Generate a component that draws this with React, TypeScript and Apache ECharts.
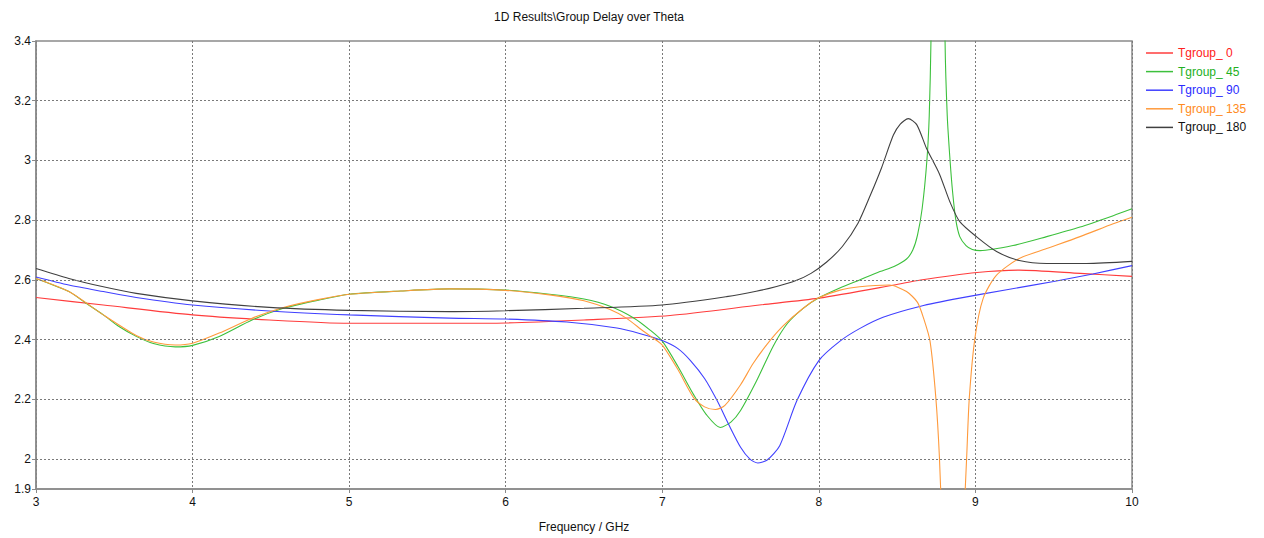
import React, { useEffect, useRef } from "react";
import * as echarts from "echarts";

const seriesNames = ["Tgroup_ 0", "Tgroup_ 45", "Tgroup_ 90", "Tgroup_ 135", "Tgroup_ 180"];
const lineColors = ["#ff3c3c", "#3cc03c", "#4040ff", "#ff9a3c", "#404040"];
const legendColors = ["#ff2020", "#22b022", "#2a2aff", "#ff8a20", "#101010"];

const fTg0 = [3, 3.43, 4, 4.49, 5, 5.64, 6, 6.5, 7.05, 7.62, 8, 8.48, 8.65, 9.01, 9.28, 9.67, 10];
const vTg0 = [2.541, 2.516, 2.483, 2.466, 2.455, 2.455, 2.456, 2.466, 2.481, 2.516, 2.539, 2.583, 2.6, 2.625, 2.633, 2.622, 2.612];

const fTg45 = [3, 3.21, 3.32, 3.43, 3.53, 3.64, 3.75, 3.89, 4.0, 4.17, 4.38, 4.58, 4.81, 5.0, 5.33, 5.64, 6.0, 6.28, 6.5, 6.67, 6.82, 6.92, 7.0, 7.1, 7.2, 7.28, 7.37, 7.44, 7.5, 7.6, 7.71, 7.8, 7.9, 8.0, 8.13, 8.26, 8.39, 8.48, 8.56, 8.6, 8.63, 8.66, 8.69, 8.705, 8.716, 8.74, 8.76, 8.785, 8.806, 8.82, 8.838, 8.855, 8.875, 8.9, 8.94, 8.98, 9.03, 9.24, 9.455, 9.668, 9.88, 10];
const vTg45 = [2.605, 2.561, 2.522, 2.483, 2.444, 2.411, 2.387, 2.376, 2.381, 2.411, 2.466, 2.505, 2.533, 2.552, 2.563, 2.57, 2.566, 2.552, 2.536, 2.511, 2.472, 2.433, 2.395, 2.31, 2.216, 2.15, 2.106, 2.125, 2.163, 2.26, 2.38, 2.455, 2.505, 2.54, 2.572, 2.6, 2.628, 2.645, 2.67, 2.7, 2.75, 2.84, 3.0, 3.15, 3.4, 4.5, 6, 4.5, 3.4, 3.15, 3.0, 2.89, 2.8, 2.745, 2.715, 2.702, 2.698, 2.715, 2.745, 2.777, 2.815, 2.838];

const fTg90 = [3, 3.21, 3.43, 3.64, 4.0, 4.49, 5.0, 5.64, 6.0, 6.39, 6.71, 6.86, 7.0, 7.1, 7.18, 7.27, 7.35, 7.43, 7.5, 7.56, 7.61, 7.67, 7.75, 7.86, 8.0, 8.135, 8.26, 8.41, 8.65, 8.9, 9.2, 9.5, 9.75, 10];
const vTg90 = [2.61, 2.583, 2.561, 2.541, 2.516, 2.496, 2.483, 2.472, 2.469, 2.459, 2.439, 2.42, 2.397, 2.37, 2.33, 2.27, 2.196, 2.11, 2.04, 2.0, 1.987, 1.997, 2.045, 2.196, 2.33, 2.395, 2.437, 2.475, 2.512, 2.539, 2.567, 2.595, 2.62, 2.648];

const fTg135 = [3, 3.21, 3.43, 3.64, 3.75, 3.89, 4.0, 4.17, 4.38, 4.58, 4.81, 5.0, 5.33, 5.64, 6.0, 6.28, 6.5, 6.67, 6.77, 6.88, 6.94, 7.0, 7.1, 7.2, 7.27, 7.34, 7.4, 7.5, 7.58, 7.67, 7.77, 7.9, 8.0, 8.13, 8.26, 8.45, 8.56, 8.63, 8.67, 8.71, 8.747, 8.77, 8.8, 8.85, 8.9, 8.944, 8.961, 8.997, 9.05, 9.135, 9.28, 9.455, 9.668, 9.88, 10];
const vTg135 = [2.605, 2.561, 2.483, 2.414, 2.392, 2.382, 2.388, 2.422, 2.472, 2.508, 2.535, 2.552, 2.563, 2.57, 2.565, 2.55, 2.53, 2.5, 2.472, 2.428, 2.406, 2.382, 2.3, 2.206, 2.175, 2.166, 2.18, 2.249, 2.32, 2.385, 2.445, 2.505, 2.54, 2.565, 2.577, 2.583, 2.561, 2.525, 2.47, 2.395, 2.206, 2.006, 1.6, 1.0, 1.5, 2.006, 2.206, 2.406, 2.539, 2.616, 2.672, 2.705, 2.745, 2.788, 2.81];

const fTg180 = [3, 3.21, 3.43, 3.64, 4.0, 4.49, 5.0, 5.64, 6.0, 6.5, 7.0, 7.41, 7.6, 7.73, 7.85, 7.95, 8.05, 8.15, 8.25, 8.33, 8.4, 8.476, 8.52, 8.571, 8.625, 8.688, 8.77, 8.838, 8.9, 9.008, 9.135, 9.28, 9.455, 9.71, 10];
const vTg180 = [2.638, 2.605, 2.577, 2.555, 2.53, 2.508, 2.498, 2.494, 2.497, 2.505, 2.516, 2.544, 2.562, 2.578, 2.597, 2.622, 2.66, 2.712, 2.79, 2.885, 2.975, 3.085, 3.122, 3.14, 3.12, 3.04, 2.955, 2.86, 2.795, 2.744, 2.695, 2.665, 2.655, 2.655, 2.662];

const yTickValues = [1.9, 2.0, 2.2, 2.4, 2.6, 2.8, 3.0, 3.2, 3.4];
const yGridValues = [2.0, 2.2, 2.4, 2.6, 2.8, 3.0, 3.2];

const titleText = "1D Results\\Group Delay over Theta";
const xAxisName = "Frequency / GHz";

const FONT = "Liberation Sans";

function pairs(f: number[], v: number[]) {
  return f.map((x, i) => [x, v[i]]);
}

export default function App() {
  const ref = useRef<HTMLDivElement>(null);
  useEffect(() => {
    if (!ref.current) return;
    const chart = echarts.init(ref.current, undefined, { renderer: "svg" });
    const allF = [fTg0, fTg45, fTg90, fTg135, fTg180];
    const allV = [vTg0, vTg45, vTg90, vTg135, vTg180];
    const series: any[] = seriesNames.map((name, i) => ({
      name,
      type: "line",
      data: pairs(allF[i], allV[i]),
      symbol: "none",
      smooth: 0.25,
      clip: true,
      lineStyle: { color: lineColors[i], width: 1.1 },
      itemStyle: { color: lineColors[i] },
      z: 3,
    }));
    series.push({
      name: "__grid",
      type: "line",
      data: [],
      silent: true,
      z: 1,
      markLine: {
        silent: true,
        symbol: ["none", "none"],
        label: { show: false },
        lineStyle: { type: [2, 2], color: "#7a7a7a", width: 1 },
        data: yGridValues.map((v) => ({ yAxis: v })),
        animation: false,
      },
    });
    chart.setOption({
      animation: false,
      title: {
        text: titleText,
        left: 584,
        textAlign: "center",
        top: 6,
        textStyle: { fontFamily: FONT, fontSize: 12, fontWeight: "normal", color: "#111" },
      },
      legend: {
        orient: "vertical",
        left: 1141,
        top: 42,
        padding: 5,
        icon: "rect",
        itemWidth: 27,
        itemHeight: 1.5,
        itemGap: 6.6,
        textStyle: { fontFamily: FONT, fontSize: 12 },
        data: seriesNames.map((n, i) => ({ name: n, textStyle: { color: legendColors[i] } })),
      },
      grid: {
        left: 36,
        right: 132,
        top: 41,
        bottom: 46,
        show: true,
        borderColor: "#8a8a8a",
        borderWidth: 1.5,
        containLabel: false,
      },
      xAxis: {
        type: "value",
        min: 3,
        max: 10,
        interval: 1,
        name: xAxisName,
        nameLocation: "middle",
        nameGap: 32,
        nameTextStyle: { fontFamily: FONT, fontSize: 12, color: "#111" },
        axisLine: { show: true, lineStyle: { color: "#8a8a8a", width: 1.5 } },
        axisTick: { show: true, length: 4, lineStyle: { color: "#8a8a8a" } },
        axisLabel: { fontFamily: FONT, fontSize: 12, color: "#111", margin: 7 },
        splitLine: { show: true, lineStyle: { type: [2, 2], color: "#7a7a7a", width: 1 } },
      },
      yAxis: {
        type: "value",
        min: 1.9,
        max: 3.4,
        axisLine: { show: true, lineStyle: { color: "#8a8a8a", width: 1.5 } },
        axisTick: { show: true, length: 4, customValues: yTickValues, lineStyle: { color: "#8a8a8a" } },
        axisLabel: {
          fontFamily: FONT,
          fontSize: 12,
          color: "#111",
          margin: 5,
          customValues: yTickValues,
          formatter: (v: number) => String(Math.round(v * 10) / 10),
        },
        splitLine: { show: false },
      },
      series,
    });
    return () => chart.dispose();
  }, []);
  return (
    <div
      ref={ref}
      style={{ position: "fixed", left: 0, top: 0, width: 1264, height: 538, background: "#fff" }}
    />
  );
}
